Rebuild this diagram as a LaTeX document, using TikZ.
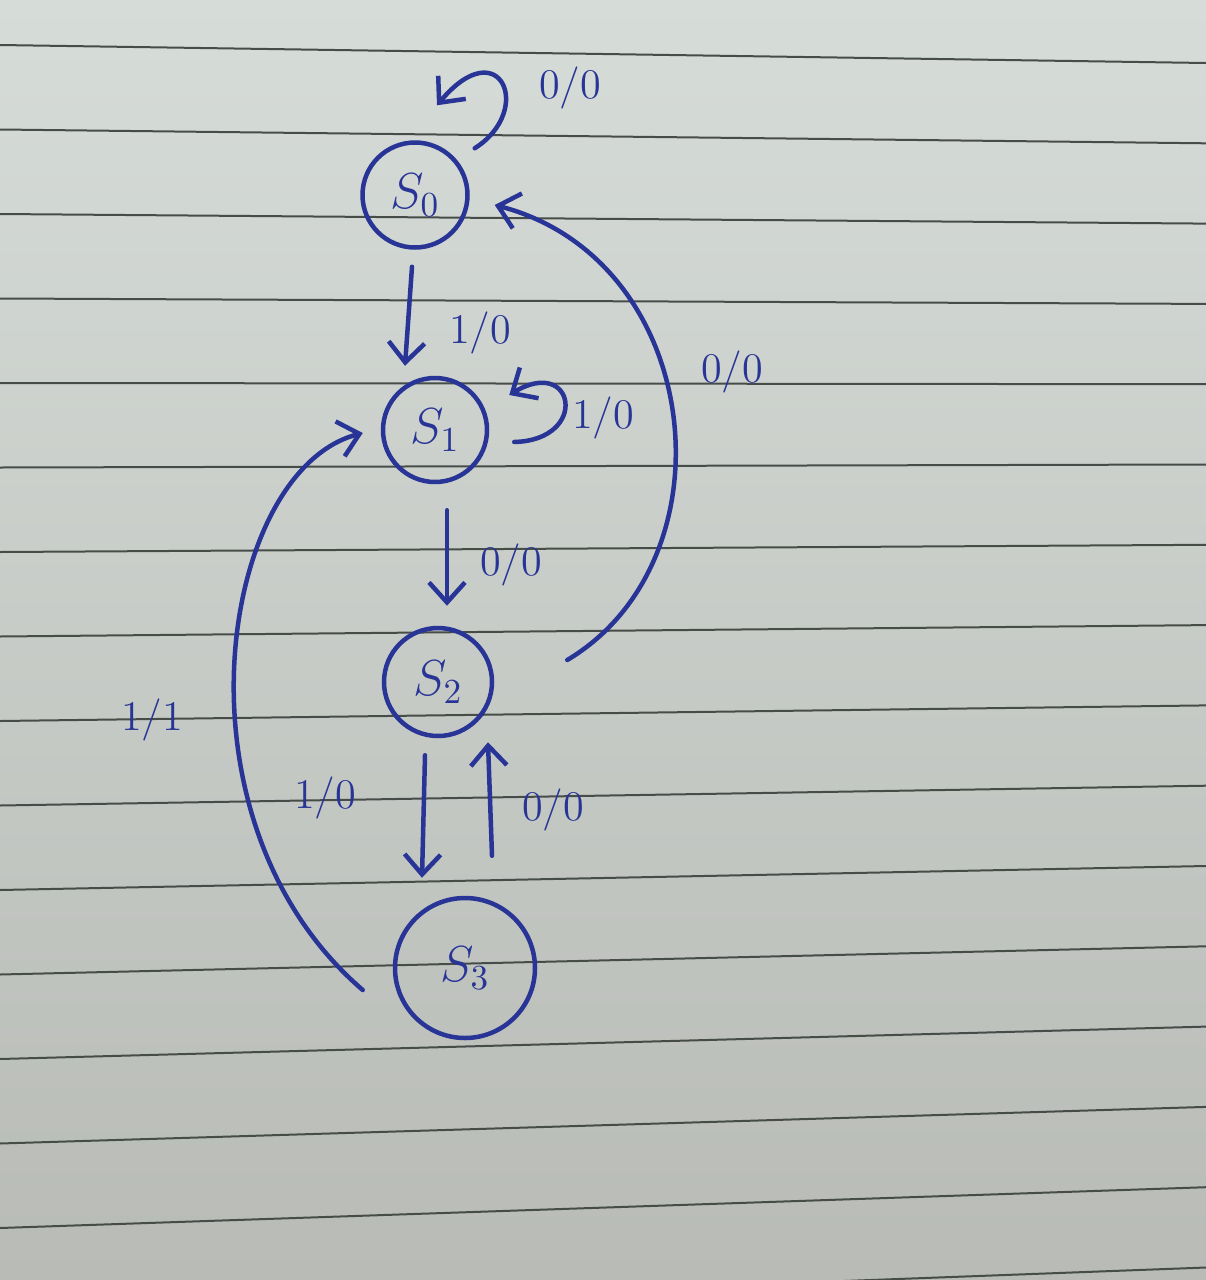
\documentclass[tikz,border=0pt]{standalone}
\usepackage{tikz}
\usetikzlibrary{arrows.meta}
\definecolor{ink}{RGB}{40,52,150}
\definecolor{paper}{RGB}{214,220,216}
\definecolor{paperdark}{RGB}{184,187,182}
\definecolor{ruling}{RGB}{70,76,72}

\begin{document}
\begin{tikzpicture}[x=0.1mm, y=-0.1mm,
    stnode/.style={circle, draw=ink, line width=0.45mm, inner sep=0pt, text=ink, font=\Large},
    edge/.style={draw=ink, line width=0.45mm, line cap=round, -{Straight Barb[length=2mm, width=3.6mm]}},
    lbl/.style={text=ink, font=\large}]
	  % Paper and ruled lines
	  \useasboundingbox (0,0) rectangle (1206,1280);
	  \shade [top color=paper, bottom color=paperdark] (0,0) rectangle (1206,1280);
	  \begin{scope}
	    \clip (0,0) rectangle (1206,1280);
	    \foreach \i in {0,...,15}
	      \draw [ruling, line width=0.2mm] (0,{45+84.5*\i}) -- (1206,{63+80.3*\i});
	  \end{scope}
	  % States
	  \node [stnode, minimum size=10.5mm] (s0) at (415,195) {$S_0$};
	  \node [stnode, minimum size=10.4mm] (s1) at (435,430) {$S_1$};
	  \node [stnode, minimum size=10.8mm] (s2) at (438,682) {$S_2$};
	  \node [stnode, minimum size=14mm] (s3) at (465,968) {$S_3$};
	  % Transitions
	  \draw [edge] ([shift={(21,-8)}]s0.north east) .. controls (535,110) and (500,30) .. ([shift={(22,-35)}]s0.north);
	  \draw [edge] ([shift={(-3,17)}]s0.south) -- ([shift={(-30,-10)}]s1.north);
	  \draw [edge] ([shift={(25,12)}]s1.east) .. controls (590,440) and (575,355) .. ([shift={(20,-35)}]s1.east);
	  \draw [edge] ([shift={(12,26)}]s1.south) -- ([shift={(9,-20)}]s2.north);
	  \draw [edge] ([shift={(73,-22)}]s2.east) .. controls (735,560) and (705,260) .. ([shift={(25,10)}]s0.east);
	  \draw [edge] ([shift={(-13,17)}]s2.south) -- ([shift={(-43,-18)}]s3.north);
	  \draw [edge] ([shift={(27,-40)}]s3.north) -- ([shift={(50,4)}]s2.south);
	  \draw [edge] ([shift={(-30,22)}]s3.west) .. controls (165,820) and (220,470) .. ([shift={(-18,3)}]s1.west);
	  % Edge labels
	  \node [lbl] (l0) at (570,88) {0/0};
	  \node [lbl] (l1) at (480,333) {1/0};
	  \node [lbl] (l2) at (603,418) {1/0};
	  \node [lbl] (l3) at (732,372) {0/0};
	  \node [lbl] (l4) at (511,565) {0/0};
	  \node [lbl] (l5) at (152,720) {1/1};
	  \node [lbl] (l6) at (325,798) {1/0};
	  \node [lbl] (l7) at (553,810) {0/0};
	 \end{tikzpicture}
\end{document}
